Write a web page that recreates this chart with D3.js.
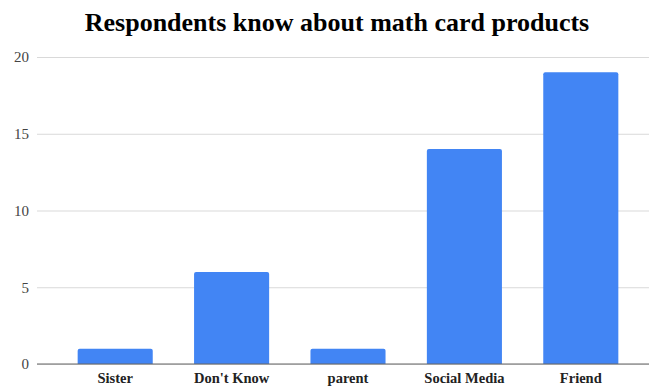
<!DOCTYPE html>
<html>
<head>
<meta charset="utf-8">
<script src="https://cdn.jsdelivr.net/npm/d3@7"></script>
<style>
  html, body { margin: 0; padding: 0; background: #fff; }
  svg { display: block; }
</style>
</head>
<body>
<svg id="chart" width="649" height="387"></svg>
<script>
const categories = ["Sister", "Don't Know", "parent", "Social Media", "Friend"];
const counts = [1, 6, 1, 14, 19];
const yTicks = [0, 5, 10, 15, 20];
const title = "Respondents know about math card products";

const W = 649, H = 387;
const svg = d3.select("#chart");
const serif = "'Liberation Serif', 'Times New Roman', serif";

const plot = { left: 37, right: 649, top: 57, bottom: 364 };

const x = d3.scaleBand()
  .domain(categories)
  .range([57, 639])
  .paddingInner(0.355)
  .paddingOuter(0.1775);

const y = d3.scaleLinear()
  .domain([0, 20])
  .range([plot.bottom, plot.top]);

// title
svg.append("text")
  .attr("x", 337)
  .attr("y", 31)
  .attr("text-anchor", "middle")
  .attr("font-family", serif)
  .attr("font-weight", "bold")
  .attr("font-size", 26)
  .attr("fill", "#000")
  .text(title);

// horizontal gridlines with value labels
const yAxis = d3.axisLeft(y)
  .tickValues(yTicks)
  .tickSize(-(plot.right - plot.left))
  .tickPadding(8)
  .tickFormat(d3.format("d"));

const gy = svg.append("g")
  .attr("transform", `translate(${plot.left},0)`)
  .call(yAxis);
gy.select(".domain").remove();
gy.selectAll(".tick line")
  .attr("stroke", "#d9d9d9")
  .attr("stroke-width", 1);
gy.selectAll(".tick text")
  .attr("font-family", serif)
  .attr("font-size", 15)
  .attr("fill", "#444");

// bars with slightly rounded tops
const r = 2;
svg.append("g")
  .selectAll("path")
  .data(categories.map((c, i) => ({ c, v: counts[i] })))
  .join("path")
  .attr("fill", "#4285f4")
  .attr("d", d => {
    const x0 = x(d.c), x1 = x0 + x.bandwidth();
    const y0 = y(0), y1 = y(d.v);
    return `M${x0},${y0}V${y1 + r}Q${x0},${y1} ${x0 + r},${y1}H${x1 - r}Q${x1},${y1} ${x1},${y1 + r}V${y0}Z`;
  });

// category axis
const xAxis = d3.axisBottom(x).tickSize(0).tickPadding(9);
const gx = svg.append("g")
  .attr("transform", `translate(0,${plot.bottom})`)
  .call(xAxis);
gx.select(".domain").remove();
gx.append("line")
  .attr("x1", plot.left)
  .attr("x2", plot.right)
  .attr("stroke", "#666")
  .attr("stroke-width", 1.2);
gx.selectAll(".tick text")
  .attr("font-family", serif)
  .attr("font-weight", "bold")
  .attr("font-size", 14.5)
  .attr("fill", "#222");
</script>
</body>
</html>
